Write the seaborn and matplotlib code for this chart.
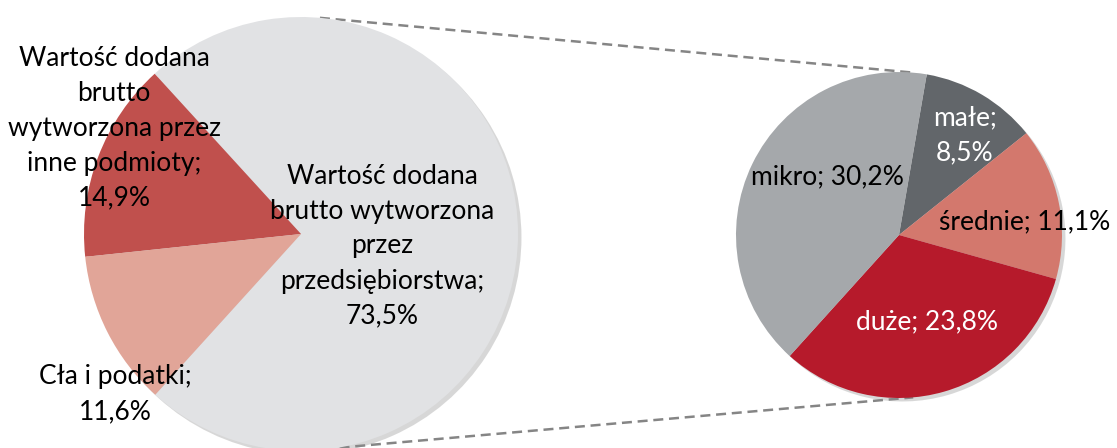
import matplotlib
matplotlib.use('Agg')
import matplotlib.pyplot as plt
import matplotlib.patheffects as pe
import numpy as np
import seaborn as sns

# dane - struktura wartosci (lewy wykres) i rozbicie przedsiebiorstw wg wielkosci (prawy)
left_values = [73.5, 14.9, 11.6]
left_labels = ['Wartość dodana\nbrutto wytworzona\nprzez\nprzedsiębiorstwa;\n73,5%',
               'Wartość dodana\nbrutto\nwytworzona przez\ninne podmioty;\n14,9%',
               'Cła i podatki;\n11,6%']
left_colors = ['#e1e2e4', '#c0504d', '#e1a598']

right_values = [8.5, 11.1, 23.8, 30.2]
right_labels = ['małe;\n8,5%', 'średnie; 11,1%', 'duże; 23,8%', 'mikro; 30,2%']
right_colors = ['#62666a', '#d3786d', '#b61a2b', '#a5a8ab']
right_text_colors = ['white', 'black', 'white', 'black']

sns.set_theme(style='white')
plt.rcParams['font.family'] = ['Lato', 'DejaVu Sans']

fig = plt.figure(figsize=(11.17, 4.48), dpi=100)
ax = fig.add_axes([0, 0, 1, 1])

# geometria (w pikselach obrazka, os y do gory)
c_left, r_left = np.array([301, 214]), 217
c_right, r_right = np.array([899, 213]), 163

pies = [(left_values, left_colors, 227.8, True, c_left, r_left),
        (right_values, right_colors, 80.2, False, c_right, r_right)]

# najpierw cien pod calymi kolami, potem wlasciwe wycinki
shadow_only = [pe.SimplePatchShadow(offset=(2.5, -2.5), shadow_rgbFace='#8f8f8f', alpha=0.35)]
for vals, cols, start, ccw, c, r in pies:
    ws, _ = ax.pie(vals, colors=cols, startangle=start, counterclock=ccw,
                   center=tuple(c), radius=r, wedgeprops=dict(linewidth=0))
    for w in ws:
        w.set_path_effects(shadow_only)
        w.set_zorder(1.5)
    ws, _ = ax.pie(vals, colors=cols, startangle=start, counterclock=ccw,
                   center=tuple(c), radius=r, wedgeprops=dict(linewidth=0))
    for w in ws:
        w.set_zorder(2)


# linie laczace oba wykresy
def on_circle(c, r, ang):
    a = np.deg2rad(ang)
    return c + r * np.array([np.cos(a), np.sin(a)])


for a_l, a_r in [(85, 85), (-90, -85)]:
    p1 = on_circle(c_left, r_left, a_l)
    p2 = on_circle(c_right, r_right, a_r)
    ax.plot([p1[0], p2[0]], [p1[1], p2[1]], color='#858585', lw=1.8,
            dashes=(4.0, 2.3), zorder=1)

# etykiety
fs = 19
ls = 1.5
left_pos = [(382, 202), (114, 320), (115, 54)]
for txt, (x, y) in zip(left_labels, left_pos):
    ax.text(x, y, txt, ha='center', va='center', fontsize=fs, linespacing=ls,
            color='black', zorder=5)

right_pos = [(965, 313), (1025, 226), (927, 126), (827, 271)]
for txt, (x, y), col in zip(right_labels, right_pos, right_text_colors):
    ax.text(x, y, txt, ha='center', va='center', fontsize=fs, linespacing=ls,
            color=col, zorder=5)

ax.set_xlim(0, 1117)
ax.set_ylim(0, 448)
ax.set_aspect('equal')
ax.axis('off')

plt.savefig('out.png', dpi=100)
